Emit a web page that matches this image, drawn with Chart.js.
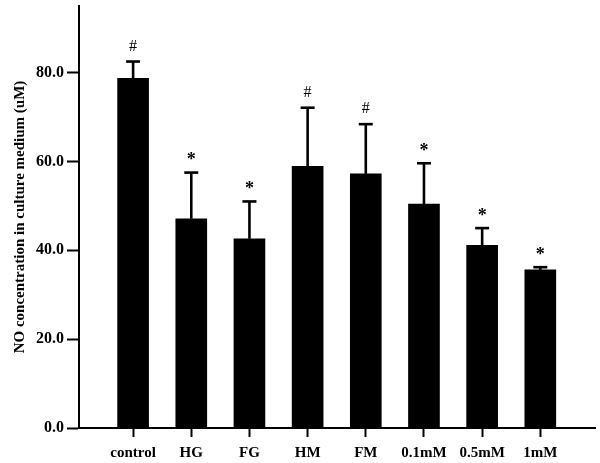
<!DOCTYPE html>
<html>
<head>
<meta charset="utf-8">
<script src="https://cdn.jsdelivr.net/npm/chart.js@4/dist/chart.umd.min.js"></script>
<style>
html,body{margin:0;padding:0;background:#fff;}
#wrap{width:600px;height:463px;position:relative;}
</style>
</head>
<body>
<div id="wrap"><canvas id="c" width="600" height="463"></canvas></div>
<script>
const categories = ["control", "HG", "FG", "HM", "FM", "0.1mM", "0.5mM", "1mM"];
const means = [78.7, 47.1, 42.6, 58.9, 57.2, 50.4, 41.1, 35.6];
const errors = [3.8, 10.4, 8.4, 13.2, 11.2, 9.2, 3.9, 0.6];
const marks = ["#", "*", "*", "#", "#", "*", "*", "*"];
const yTicks = [0, 20, 40, 60, 80];

const serif = "'Liberation Serif', 'DejaVu Serif', serif";

const errorBarPlugin = {
  id: 'errorBars',
  afterDatasetsDraw(chart) {
    const ctx = chart.ctx;
    const xs = chart.scales.x, ys = chart.scales.y;
    ctx.save();
    ctx.strokeStyle = '#000';
    ctx.fillStyle = '#000';
    ctx.lineWidth = 2.6;
    ctx.lineCap = 'butt';
    means.forEach((m, i) => {
      const x = xs.getPixelForValue(i);
      const y0 = ys.getPixelForValue(m);
      const y1 = ys.getPixelForValue(m + errors[i]);
      ctx.beginPath();
      ctx.moveTo(x, y0);
      ctx.lineTo(x, y1);
      ctx.stroke();
      ctx.beginPath();
      ctx.moveTo(x - 7, y1);
      ctx.lineTo(x + 7, y1);
      ctx.stroke();
      const mk = marks[i];
      ctx.textAlign = 'center';
      ctx.textBaseline = 'middle';
      if (mk === '#') {
        ctx.font = "16px " + serif;
        ctx.fillText(mk, x, y1 - 15);
      } else {
        ctx.font = "bold 18px " + serif;
        ctx.fillText(mk, x, y1 - 12);
      }
    });
    ctx.restore();
  }
};

new Chart(document.getElementById('c'), {
  type: 'bar',
  data: {
    datasets: [{
      data: categories.map((c, i) => ({x: i, y: means[i]})),
      backgroundColor: '#000',
      borderWidth: 0,
      barThickness: 31
    }]
  },
  options: {
    responsive: false,
    animation: false,
    events: [],
    layout: {padding: {top: 6, right: 5, left: 0, bottom: 0}},
    plugins: {legend: {display: false}, tooltip: {enabled: false}},
    scales: {
      x: {
        type: 'linear',
        offset: false,
        min: -0.93,
        max: 7.94,
        afterBuildTicks: s => { s.ticks = categories.map((c, i) => ({value: i})); },
        afterFit: s => { s.height = 35; s.paddingLeft = 0; s.paddingRight = 0; },
        border: {display: true, color: '#000', width: 2},
        grid: {display: true, offset: false, drawOnChartArea: false, drawTicks: true, tickLength: 9, tickColor: '#000', tickWidth: 2},
        ticks: {
          autoSkip: false, maxRotation: 0, minRotation: 0, padding: 7,
          color: '#000',
          font: {family: serif, size: 15, weight: 'bold'},
          callback: v => categories[v]
        }
      },
      y: {
        type: 'linear',
        min: 0,
        max: 95,
        afterBuildTicks: s => { s.ticks = yTicks.map(v => ({value: v})); },
        afterFit: s => { s.width = 79; s.paddingTop = 0; s.paddingBottom = 0; },
        border: {display: true, color: '#000', width: 2},
        grid: {display: true, drawOnChartArea: false, drawTicks: true, tickLength: 12, tickColor: '#000', tickWidth: 2},
        ticks: {
          padding: 3,
          color: '#000',
          font: {family: serif, size: 16, weight: 'bold'},
          callback: v => Number(v).toFixed(1)
        },
        title: {
          display: true,
          text: 'NO concentration in culture medium (uM)',
          color: '#000',
          font: {family: serif, size: 15, weight: 'bold'},
          padding: {top: 11, bottom: 0}
        }
      }
    }
  },
  plugins: [errorBarPlugin]
});
</script>
</body>
</html>
